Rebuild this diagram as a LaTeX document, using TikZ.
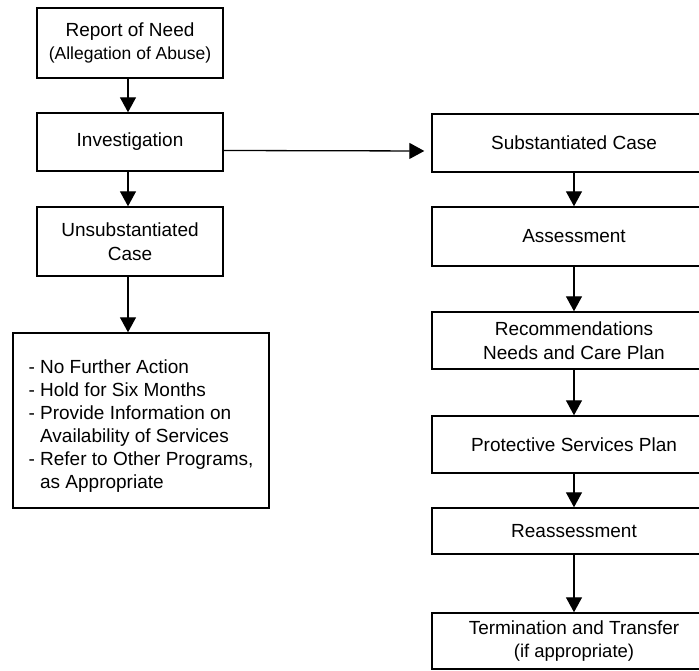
\documentclass[tikz,border=0pt]{standalone}
\usepackage{fontspec}
\setmainfont{Liberation Sans}
\usetikzlibrary{arrows.meta}
\tikzset{
  box/.style={draw, line width=1.4pt, inner sep=0pt, align=center,
    font=\fontsize{19}{24}\selectfont},
  lbox/.style={box, minimum width=186pt},
  rbox/.style={box, minimum width=284pt},
  arr/.style={line width=1.3pt, -{Triangle[width=16pt,length=15pt]}}
}
\begin{document}
\begin{tikzpicture}[x=1pt,y=1pt]
\useasboundingbox (0,0) rectangle (699,-671);
\clip (0,0) rectangle (699,-671);
% left column
\node[lbox, minimum height=70pt] (rep) at (130,-43) {Report of Need\\[-1pt]{\fontsize{17.5}{21}\selectfont (Allegation of Abuse)}};
\node[lbox, minimum height=58pt] (inv) at (130,-142) {Investigation};
\node[lbox, minimum height=69pt] (uns) at (130,-241.5) {Unsubstantiated\\Case};
\node[box, align=left, minimum width=256pt, minimum height=175pt] (lst) at (141,-420.5) {%
\rule{0pt}{24pt}- No Further Action\\[-1pt]
- Hold for Six Months\\[-1pt]
- Provide Information on\\[-1pt]
\hphantom{- }Availability of Services\\[-1pt]
- Refer to Other Programs,\\[-1pt]
\hphantom{- }as Appropriate};
% right column
\node[rbox, minimum height=58pt] (sub) at (574,-143) {Substantiated Case};
\node[rbox, minimum height=59pt] (ass) at (574,-236.5) {Assessment};
\node[rbox, minimum height=57pt] (rec) at (574,-340.5) {Recommendations\\Needs and Care Plan};
\node[rbox, minimum height=57pt] (pro) at (574,-444.5) {Protective Services Plan};
\node[rbox, minimum height=46pt] (rea) at (574,-531) {Reassessment};
\node[rbox, minimum height=56pt] (ter) at (574,-641) {Termination and Transfer\\[-1pt]{\fontsize{18.5}{22}\selectfont (if appropriate)}};
% connectors
\draw[arr] ([xshift=-2pt]rep.south) -- ([xshift=-2pt]inv.north);
\draw[arr] ([xshift=-2pt]inv.south) -- ([xshift=-2pt]uns.north);
\draw[arr] ([xshift=-2pt]uns.south) -- ([xshift=-2pt]uns.south |- lst.north);
\draw[arr, shorten >=7pt] ([yshift=-8.5pt]inv.east) -- ([yshift=-8pt]sub.west);
\draw[arr] (sub) -- (ass);
\draw[arr] (ass) -- (rec);
\draw[arr] (rec) -- (pro);
\draw[arr] (pro) -- (rea);
\draw[arr] (rea) -- (ter);
\end{tikzpicture}
\end{document}
